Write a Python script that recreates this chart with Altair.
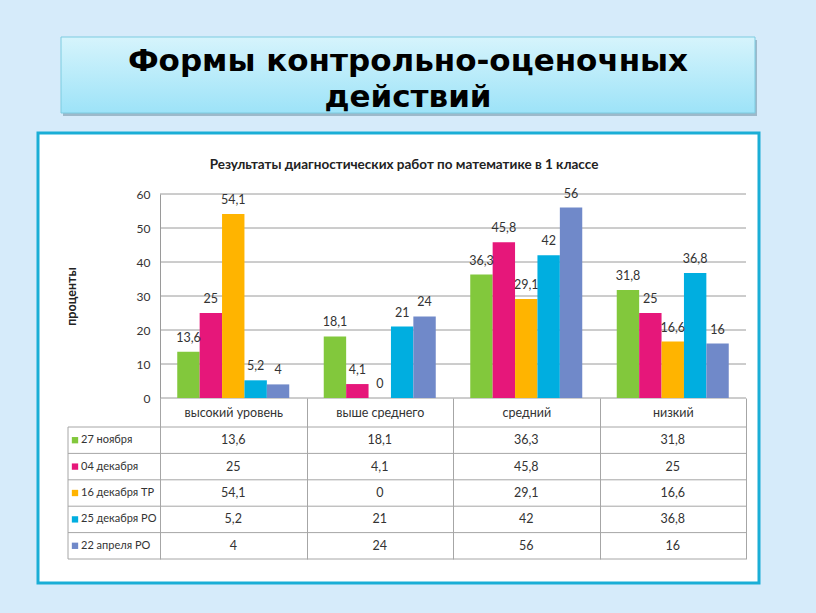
import altair as alt
import pandas as pd

# ---- data ----
categories = ["высокий уровень", "выше среднего", "средний", "низкий"]
series = ["27 ноября", "04 декабря", "16 декабря ТР", "25 декабря РО", "22 апреля РО"]
v_27nov = [13.6, 18.1, 36.3, 31.8]
v_04dec = [25, 4.1, 45.8, 25]
v_16dec = [54.1, 0, 29.1, 16.6]
v_25dec = [5.2, 21, 42, 36.8]
v_22apr = [4, 24, 56, 16]
colors = ["#82c83c", "#e6177a", "#ffb400", "#00aee0", "#7089c9"]
y_ticks = [0, 10, 20, 30, 40, 50, 60]

rows = []
for s, vals in zip(series, [v_27nov, v_04dec, v_16dec, v_25dec, v_22apr]):
    for c, v in zip(categories, vals):
        rows.append({"category": c, "series": s, "value": v,
                     "label": f"{v:g}".replace(".", ",")})
df = pd.DataFrame(rows)
one = pd.DataFrame({"k": [0]})
ser_df = pd.DataFrame({"series": series})
tick_df = pd.DataFrame({"tick": y_ticks})

FONT = "Lato"
TXT = "#333333"
GRID = "#9a9a9a"

# plot area (view) sits at (160,194), size 586x204 inside the 816x613 canvas
W, H = 586, 204

color_enc = alt.Color("series:N", sort=series,
                      scale=alt.Scale(domain=series, range=colors), legend=None)

x_enc = alt.X("category:N", sort=categories,
              scale=alt.Scale(domain=categories, paddingInner=0, paddingOuter=0),
              axis=alt.Axis(title=None, orient="bottom", tickBand="extent",
                            tickSize=161, tickColor="#a6a6a6", tickWidth=1,
                            domain=False, labelPadding=-153, labelFont=FONT,
                            labelFontSize=12.5, labelColor=TXT, labelAngle=0,
                            labelBaseline="top", zindex=1))
xoff_enc = alt.XOffset("series:N", sort=series,
                       scale=alt.Scale(domain=series, paddingInner=0, paddingOuter=0.77))

val_scale = alt.Scale(domain=[0, 60], nice=False)
row_scale = alt.Scale(domain=series, range=[233, 365], paddingInner=0, paddingOuter=0)

# ---- decorations ----
white_box = alt.Chart(one).mark_rect(fill="white", stroke="#1aaed6", strokeWidth=3).encode(
    x=alt.value(-122), x2=alt.value(599), y=alt.value(-61), y2=alt.value(389))

shadow = alt.Chart(one).mark_rect(fill="#6f8fa3", opacity=0.55).encode(
    x=alt.value(-97), x2=alt.value(597), y=alt.value(-154), y2=alt.value(-78))

grad = alt.LinearGradient(gradient="linear",
                          stops=[alt.GradientStop(offset=0, color="#d6f4fc"),
                                 alt.GradientStop(offset=1, color="#9de3f8")],
                          x1=0, x2=0, y1=0, y2=1)
title_box = alt.Chart(one).mark_rect(fill=grad, stroke="#7ccbe0", strokeWidth=1).encode(
    x=alt.value(-99), x2=alt.value(595), y=alt.value(-157), y2=alt.value(-81))

title1 = alt.Chart(one).mark_text(font="DejaVu Sans", fontWeight="bold", fontSize=31,
                                  color="black", baseline="alphabetic").encode(
    x=alt.value(248), y=alt.value(-123), text=alt.value("Формы контрольно-оценочных"))
title2 = alt.Chart(one).mark_text(font="DejaVu Sans", fontWeight="bold", fontSize=31,
                                  color="black", baseline="alphabetic").encode(
    x=alt.value(248), y=alt.value(-87), text=alt.value("действий"))

chart_title = alt.Chart(one).mark_text(font=FONT, fontWeight="bold", fontSize=13.5,
                                       color="#222222", baseline="middle").encode(
    x=alt.value(244), y=alt.value(-29),
    text=alt.value("Результаты диагностических работ по математике в 1 классе"))

# ---- gridlines (behind bars) ----
grid = alt.Chart(tick_df).mark_rule(color=GRID, strokeWidth=1).encode(
    x=alt.value(0), x2=alt.value(W),
    y=alt.Y("tick:Q", scale=val_scale, axis=None))

# ---- bars ----
bars = alt.Chart(df).mark_bar().encode(
    x=x_enc, xOffset=xoff_enc,
    y=alt.Y("value:Q", scale=val_scale,
            axis=alt.Axis(values=y_ticks, title="проценты", grid=False,
                          domainColor=GRID, ticks=False, labelPadding=10,
                          labelFont=FONT, labelFontSize=12, labelColor=TXT,
                          titleFont=FONT, titleFontSize=12.5, titleFontWeight="bold",
                          titleColor="#222222", titleX=-82, titleY=102, zindex=1)),
    color=color_enc)

bar_labels = alt.Chart(df).mark_text(font=FONT, fontSize=12.5, color=TXT,
                                     baseline="bottom", dy=-7).encode(
    x=x_enc, xOffset=xoff_enc,
    y=alt.Y("value:Q", scale=val_scale, axis=None),
    text="label:N")

# ---- data table ----
table_text = alt.Chart(df).mark_text(font=FONT, fontSize=12.5, color=TXT,
                                     baseline="middle").encode(
    x=x_enc,
    y=alt.Y("series:N", sort=series, scale=row_scale, axis=None),
    text="label:N")

h_lines = alt.Chart(ser_df).mark_rule(color="#a6a6a6", strokeWidth=1).encode(
    x=alt.value(-92), x2=alt.value(W),
    y=alt.Y("series:N", sort=series, scale=row_scale, axis=None, bandPosition=0))

bottom_line = alt.Chart(one).mark_rule(color="#a6a6a6", strokeWidth=1).encode(
    x=alt.value(-92), x2=alt.value(W), y=alt.value(365))
left_line = alt.Chart(one).mark_rule(color="#a6a6a6", strokeWidth=1).encode(
    x=alt.value(-92), y=alt.value(233), y2=alt.value(365))

legend_sq = alt.Chart(ser_df).mark_square(size=40, opacity=1).encode(
    x=alt.value(-85),
    y=alt.Y("series:N", sort=series, scale=row_scale, axis=None),
    color=color_enc)
legend_txt = alt.Chart(ser_df).mark_text(font=FONT, fontSize=11, color=TXT,
                                         align="left", baseline="middle").encode(
    x=alt.value(-79),
    y=alt.Y("series:N", sort=series, scale=row_scale, axis=None),
    text="series:N")

chart = alt.layer(
    white_box, shadow, title_box, title1, title2, chart_title, grid,
    bars, bar_labels, table_text, h_lines, bottom_line, left_line, legend_sq, legend_txt
).resolve_scale(y="independent").properties(
    width=W, height=H,
    padding={"left": 160, "top": 194, "right": 70, "bottom": 215},
    autosize="none",
).configure(background="#d6ebfa").configure_view(stroke=None)

chart.save("out.html", embed_options={"renderer": "svg", "actions": False})
